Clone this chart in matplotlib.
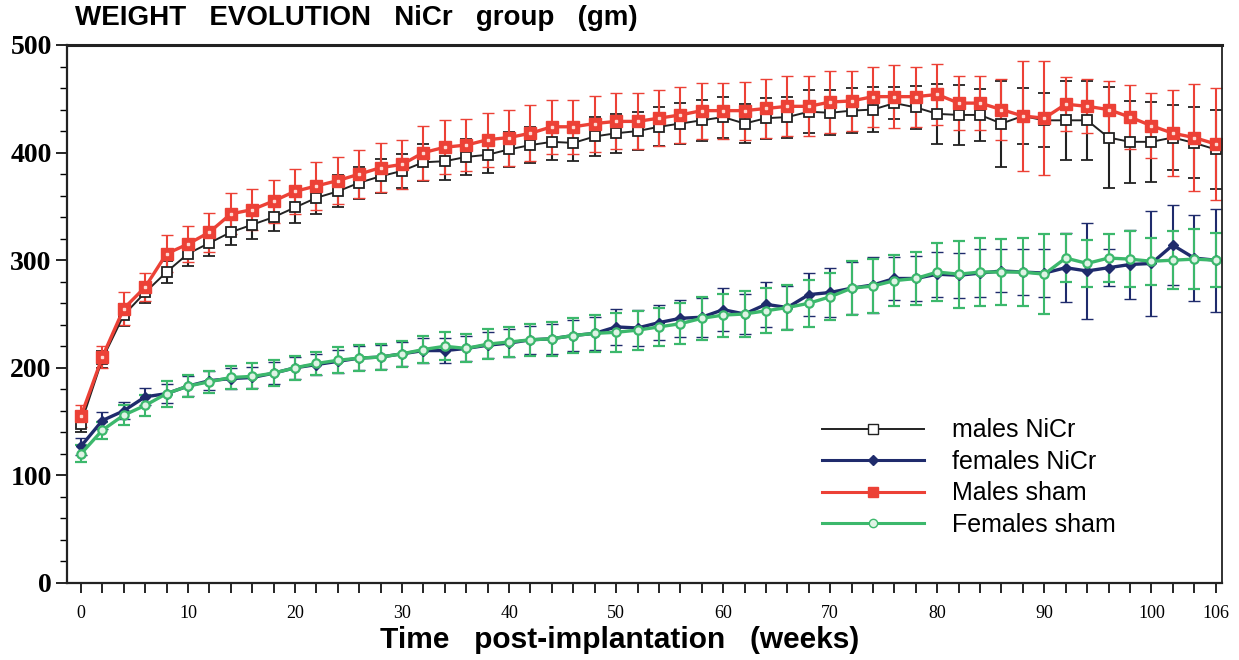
import matplotlib
matplotlib.use("Agg")
import matplotlib.pyplot as plt
from matplotlib.lines import Line2D
import numpy as np

# semaines 0..106, une mesure toutes les 2 semaines
weeks = list(range(0, 107, 2))

males_nicr = [148, 208, 249, 270, 289, 306, 316, 326, 333, 340, 349, 358, 364, 372,
              378, 383, 391, 392, 396, 398, 403, 407, 410, 409, 415, 418, 420, 424,
              427, 430, 433, 427, 432, 433, 438, 437, 439, 440, 446, 442, 436, 435,
              435, 427, 434, 430, 430, 430, 414, 410, 410, 414, 409, 403]
males_nicr_sd = [8, 8, 10, 10, 10, 11, 12, 12, 13, 13, 14, 15, 15, 15,
                 16, 16, 17, 17, 17, 17, 16, 17, 17, 17, 18, 18, 18, 18,
                 19, 19, 19, 18, 19, 19, 20, 21, 21, 21, 15, 20, 28, 28,
                 24, 40, 26, 25, 37, 37, 47, 38, 37, 30, 33, 37]

females_nicr = [127, 151, 160, 173, 176, 183, 188, 190, 191, 195, 200, 203, 206, 209,
                210, 213, 216, 216, 218, 221, 223, 226, 227, 230, 232, 238, 237, 242,
                246, 247, 254, 250, 259, 256, 268, 270, 274, 277, 283, 283, 287, 286,
                288, 290, 289, 288, 293, 290, 293, 296, 297, 314, 302, 300]
females_nicr_sd = [8, 8, 8, 8, 9, 9, 9, 10, 10, 10, 10, 10, 11, 11,
                   11, 11, 12, 12, 12, 12, 13, 13, 14, 14, 15, 17, 17, 16,
                   17, 18, 20, 19, 21, 20, 20, 23, 24, 26, 20, 21, 21, 21,
                   22, 20, 21, 22, 32, 45, 17, 32, 49, 37, 40, 48]

males_sham = [155, 210, 255, 275, 306, 315, 326, 343, 347, 355, 364, 369, 374, 380,
              386, 389, 400, 405, 407, 412, 414, 418, 424, 424, 427, 429, 429, 432,
              435, 439, 439, 439, 441, 443, 443, 447, 448, 452, 452, 452, 454, 446,
              446, 440, 434, 432, 445, 443, 440, 433, 425, 418, 414, 408]
males_sham_sd = [10, 10, 15, 13, 17, 17, 18, 19, 19, 20, 21, 22, 22, 22,
                 23, 23, 25, 25, 24, 25, 26, 26, 25, 25, 26, 26, 26, 26,
                 26, 26, 26, 27, 27, 28, 28, 29, 28, 28, 29, 28, 28, 25,
                 25, 28, 51, 53, 25, 25, 27, 30, 30, 40, 50, 52]

females_sham = [120, 142, 156, 165, 176, 183, 187, 191, 192, 195, 200, 204, 207, 209,
                210, 213, 217, 220, 218, 222, 224, 226, 227, 230, 232, 233, 235, 238,
                241, 246, 249, 250, 253, 256, 260, 266, 274, 276, 281, 283, 289, 287,
                289, 289, 289, 287, 302, 297, 302, 301, 299, 300, 301, 300]
females_sham_sd = [8, 8, 9, 10, 12, 10, 10, 11, 12, 12, 11, 11, 12, 12,
                   12, 12, 13, 13, 13, 14, 14, 15, 16, 16, 17, 18, 18, 18,
                   19, 20, 20, 21, 21, 21, 22, 22, 25, 25, 24, 25, 27, 31,
                   32, 31, 32, 37, 22, 22, 22, 26, 22, 27, 28, 25]

labels = ["males NiCr", "females NiCr", "Males sham", "Females sham"]
x_labelled = [0, 10, 20, 30, 40, 50, 60, 70, 80, 90, 100, 106]

RED = "#ec4136"
BLACK = "#222222"
NAVY = "#1f2b6c"
GREEN = "#3cb86c"

fig = plt.figure(figsize=(12.39, 6.6), dpi=100)
ax = fig.add_axes([67 / 1239, 1 - 583 / 660, (1222 - 67) / 1239, (583 - 45) / 660])

styles = [
    (males_nicr, males_nicr_sd, dict(color=BLACK, marker="s", mfc="white", mec=BLACK,
                                     ms=7, mew=1.3, lw=1.4)),
    (males_sham, males_sham_sd, dict(color=RED, marker="s", mfc=RED, mec=RED,
                                     ms=8, mew=1.0, lw=2.4)),
    (females_nicr, females_nicr_sd, dict(color=NAVY, marker="D", mfc=NAVY, mec=NAVY,
                                         ms=5, mew=1.0, lw=2.4)),
    (females_sham, females_sham_sd, dict(color=GREEN, marker="o", mfc="#dff3e5", mec=GREEN,
                                         ms=6, mew=1.6, lw=2.4)),
]
for vals, sd, st in styles:
    ax.errorbar(weeks, vals, yerr=sd, capsize=4.5, elinewidth=1.5, capthick=1.6,
                ecolor=st["color"], **st)
    if st["color"] == RED:
        # petit point clair au centre des carrés rouges
        ax.plot(weeks, vals, ls="none", marker="s", ms=1.8, color="#ffd8d0", zorder=3)

ax.set_xlim(-1.3, 106.6)
ax.set_ylim(0, 500)

ax.set_xticks(weeks)
ax.set_xticklabels([str(w) if w in x_labelled else "" for w in weeks],
                   family="Liberation Serif", fontsize=13)
ax.set_yticks(range(0, 501, 100))
ax.set_yticks(range(0, 501, 20), minor=True)
ax.set_yticklabels([str(v) for v in range(0, 501, 100)],
                   family="Liberation Serif", fontweight="bold", fontsize=20)
ax.tick_params(axis="x", direction="out", length=7, width=1.2, pad=9)
ax.tick_params(axis="y", which="major", direction="out", length=8, width=1.2, pad=3)
ax.tick_params(axis="y", which="minor", direction="out", length=5, width=1.0)

for side, w in [("top", 2.2), ("bottom", 1.6), ("left", 1.6), ("right", 1.3)]:
    ax.spines[side].set_linewidth(w)
    ax.spines[side].set_color("#222222")

handles = [
    Line2D([], [], color=BLACK, lw=1.4, marker="s", mfc="white", mec=BLACK, ms=7),
    Line2D([], [], color=NAVY, lw=2.2, marker="D", mfc=NAVY, mec=NAVY, ms=5),
    Line2D([], [], color=RED, lw=2.2, marker="s", mfc=RED, mec=RED, ms=7),
    Line2D([], [], color=GREEN, lw=2.2, marker="o", mfc="#dff3e5", mec=GREEN, ms=6),
]
ax.legend(handles, labels, loc="upper left", bbox_to_anchor=(0.634, 0.348),
          frameon=False, handlelength=4.1, handletextpad=1.1,
          labelspacing=0.3, prop={"family": "Liberation Sans", "size": 18})

fig.text(75 / 1239, 1 - 18 / 660, "WEIGHT   EVOLUTION   NiCr   group   (gm)",
         family="Liberation Sans", fontweight="bold", fontsize=20, va="center")
fig.text(620 / 1239, 1 - 640 / 660, "Time   post-implantation   (weeks)",
         family="Liberation Sans", fontweight="bold", fontsize=21.5,
         ha="center", va="center")

fig.savefig("out.png", dpi=100)
